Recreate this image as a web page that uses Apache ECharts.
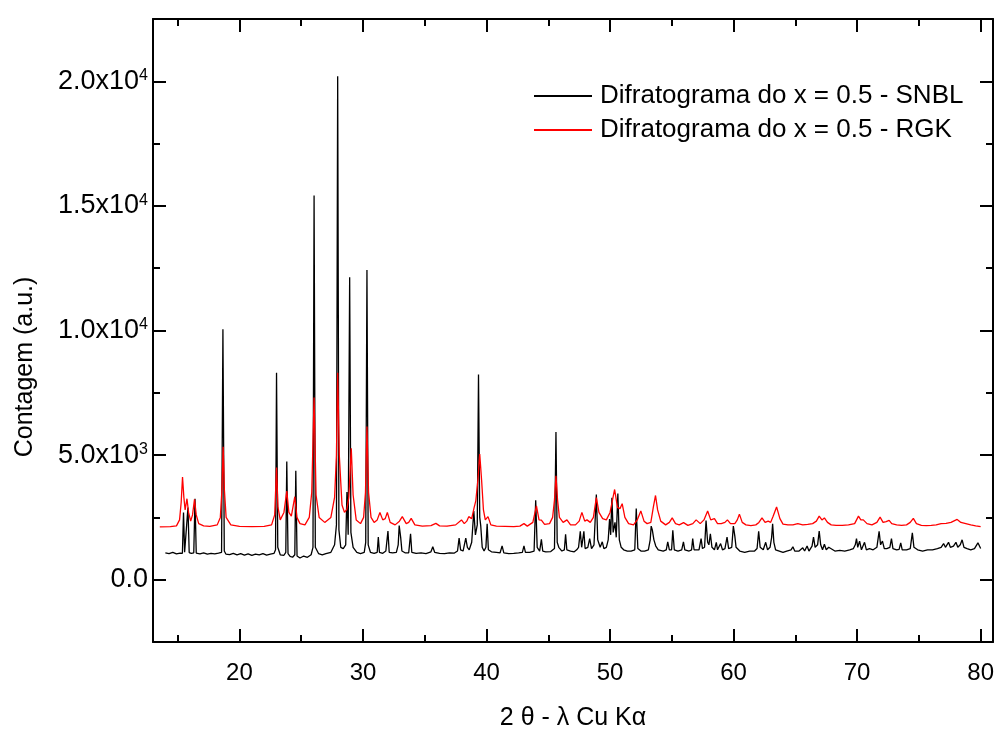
<!DOCTYPE html>
<html>
<head>
<meta charset="utf-8">
<script src="https://cdn.jsdelivr.net/npm/echarts@6/dist/echarts.min.js"></script>
<style>html,body{margin:0;padding:0;background:#fff}#c{width:997px;height:736px}</style>
</head>
<body>
<div id="c"></div>
<script>
// ---- data (2θ in degrees, counts) ----
const seriesNames = ['Difratograma do x = 0.5 - SNBL', 'Difratograma do x = 0.5 - RGK'];
const xMajorTicks = [20, 30, 40, 50, 60, 70, 80];
const xMinorTicks = [15, 25, 35, 45, 55, 65, 75];
const yMajorTicks = [0, 5000, 10000, 15000, 20000];
const yMinorTicks = [2500, 7500, 12500, 17500];
const yTickLabels = ['0.0', '5.0x10{s|3}', '1.0x10{s|4}', '1.5x10{s|4}', '2.0x10{s|4}'];

const snbl = [
[14.0,1080],[14.3,1050],[14.6,1100],[14.9,1040],[15.2,1070],[15.38,1060],[15.47,2700],[15.56,1100],[15.7,1080],[15.83,2900],[15.93,1090],[16.1,1060],[16.3,1080],[16.4,3250],[16.5,1070],[16.8,1040],[17.1,1080],[17.4,1030],[17.7,1060],[18.0,1040],[18.3,1070],[18.55,1100],[18.66,10050],[18.77,1150],[18.9,1030],[19.2,1010],[19.5,1060],[19.8,1000],[20.1,1050],[20.4,990],[20.7,1040],[21.0,980],[21.3,1030],[21.6,1000],[21.9,1050],[22.2,990],[22.5,1030],[22.8,1060],[22.92,1200],[23.0,8300],[23.1,1300],[23.3,1000],[23.6,980],[23.75,1100],[23.83,4740],[23.93,1050],[24.1,940],[24.3,900],[24.48,1000],[24.56,4370],[24.66,950],[24.9,870],[25.2,950],[25.5,900],[25.8,1000],[25.95,1300],[26.04,15420],[26.14,1300],[26.4,1050],[26.7,1000],[27.0,1050],[27.4,1100],[27.7,1400],[27.85,2200],[27.95,20200],[28.05,2000],[28.2,1300],[28.4,1250],[28.6,1400],[28.7,3520],[28.8,1800],[28.92,12140],[29.02,1900],[29.2,1300],[29.5,1100],[29.8,1050],[30.1,1100],[30.22,1500],[30.32,12430],[30.42,1400],[30.6,1100],[30.9,1060],[31.15,1100],[31.24,1710],[31.33,1100],[31.6,1060],[31.85,1150],[32.02,1950],[32.12,1100],[32.4,1080],[32.7,1100],[32.85,1400],[32.93,2170],[33.05,1700],[33.15,1150],[33.4,1080],[33.7,1080],[33.85,1840],[33.95,1100],[34.3,1060],[34.7,1080],[35.1,1050],[35.5,1120],[35.65,1320],[35.8,1100],[36.2,1060],[36.6,1050],[37.0,1080],[37.4,1070],[37.65,1150],[37.78,1670],[37.9,1200],[38.1,1150],[38.32,1670],[38.45,1300],[38.6,1200],[38.8,1500],[38.97,2760],[39.1,1800],[39.25,2200],[39.35,8230],[39.45,2500],[39.53,2170],[39.65,1300],[39.8,1150],[39.95,1300],[40.05,2240],[40.15,1200],[40.4,1120],[40.8,1100],[41.1,1080],[41.26,1360],[41.4,1080],[41.8,1050],[42.2,1060],[42.6,1080],[42.9,1100],[43.03,1360],[43.15,1100],[43.5,1100],[43.85,1150],[43.98,3190],[44.1,1300],[44.3,1150],[44.44,1620],[44.55,1150],[44.8,1120],[45.2,1130],[45.5,1250],[45.62,5930],[45.72,1500],[45.85,1300],[46.1,1150],[46.3,1200],[46.4,1820],[46.5,1200],[46.8,1150],[47.1,1120],[47.3,1200],[47.45,1300],[47.59,1940],[47.7,1300],[47.88,1940],[47.98,1250],[48.2,1300],[48.35,1650],[48.5,1250],[48.7,1400],[48.89,3420],[49.0,1600],[49.2,1300],[49.37,1520],[49.5,1250],[49.7,1300],[49.85,1600],[49.96,2430],[50.05,1800],[50.15,3290],[50.25,1900],[50.4,2300],[50.5,1700],[50.63,3460],[50.75,1600],[50.9,1300],[51.1,1200],[51.4,1150],[51.7,1150],[52.0,1200],[52.12,2860],[52.25,1250],[52.5,1150],[52.8,1150],[53.1,1200],[53.25,1600],[53.33,2150],[53.42,2000],[53.55,1600],[53.7,1350],[53.9,1200],[54.3,1150],[54.55,1200],[54.67,1520],[54.8,1200],[54.98,1200],[55.08,1980],[55.2,1200],[55.5,1150],[55.8,1200],[55.94,1520],[56.05,1200],[56.4,1150],[56.6,1200],[56.69,1650],[56.8,1200],[57.2,1200],[57.37,1650],[57.48,1250],[57.65,1300],[57.77,2370],[57.9,1500],[58.0,1400],[58.12,1840],[58.25,1300],[58.45,1200],[58.6,1500],[58.7,1200],[58.95,1450],[59.1,1200],[59.3,1250],[59.47,1710],[59.6,1250],[59.85,1300],[59.98,2150],[60.1,1750],[60.2,1300],[60.5,1150],[60.9,1100],[61.3,1150],[61.7,1150],[61.9,1250],[62.03,1940],[62.15,1300],[62.4,1200],[62.6,1500],[62.75,1200],[62.95,1300],[63.08,1700],[63.16,2240],[63.26,1500],[63.4,1200],[63.7,1150],[64.0,1100],[64.3,1150],[64.65,1200],[64.8,1320],[64.95,1150],[65.3,1150],[65.6,1280],[65.75,1150],[65.95,1350],[66.1,1150],[66.35,1350],[66.47,1710],[66.6,1300],[66.8,1400],[66.93,1950],[67.05,1400],[67.2,1200],[67.35,1420],[67.5,1200],[67.7,1300],[67.85,1250],[68.2,1150],[68.6,1180],[69.0,1150],[69.4,1200],[69.7,1250],[69.85,1400],[69.95,1650],[70.05,1300],[70.2,1550],[70.35,1200],[70.6,1500],[70.75,1200],[71.0,1250],[71.3,1200],[71.6,1300],[71.78,1940],[71.9,1400],[72.05,1550],[72.2,1250],[72.4,1250],[72.65,1300],[72.78,1650],[72.9,1250],[73.2,1200],[73.4,1220],[73.53,1480],[73.65,1200],[74.0,1200],[74.3,1250],[74.47,1880],[74.6,1300],[74.9,1200],[75.3,1150],[75.7,1200],[76.1,1200],[76.5,1250],[76.8,1300],[77.0,1450],[77.15,1300],[77.4,1500],[77.55,1300],[77.8,1350],[78.0,1500],[78.15,1300],[78.35,1400],[78.5,1600],[78.65,1300],[78.9,1250],[79.2,1200],[79.5,1250],[79.78,1480],[80.0,1250]
];

const rgk = [
[13.55,2120],[14.4,2130],[14.9,2160],[15.15,2400],[15.28,3100],[15.39,4120],[15.5,3300],[15.6,2800],[15.75,3250],[15.88,2700],[16.05,2350],[16.2,2600],[16.36,3230],[16.5,2600],[16.7,2250],[17.1,2160],[17.6,2140],[18.2,2200],[18.45,2500],[18.58,3600],[18.68,5330],[18.78,3600],[18.92,2500],[19.3,2200],[20.0,2140],[21.0,2130],[22.0,2140],[22.6,2200],[22.85,2600],[23.0,4500],[23.12,2900],[23.3,2400],[23.6,2700],[23.83,3560],[24.0,2700],[24.2,2550],[24.48,3330],[24.65,2500],[24.9,2250],[25.3,2200],[25.65,2500],[25.85,3500],[26.04,7310],[26.2,3400],[26.45,2500],[26.9,2300],[27.4,2500],[27.7,3300],[27.85,5000],[27.95,8300],[28.08,5000],[28.3,3000],[28.5,2700],[28.7,2830],[28.85,3300],[29.05,5270],[29.2,3400],[29.45,2400],[29.8,2250],[30.05,2500],[30.2,3500],[30.32,6150],[30.45,3500],[30.65,2500],[30.9,2300],[31.15,2400],[31.37,2700],[31.6,2400],[31.8,2450],[31.97,2700],[32.2,2300],[32.6,2200],[32.95,2350],[33.18,2530],[33.5,2250],[33.7,2300],[33.9,2460],[34.2,2200],[34.8,2150],[35.5,2170],[35.9,2260],[36.2,2160],[36.8,2150],[37.5,2200],[37.97,2400],[38.2,2250],[38.4,2350],[38.56,2530],[38.8,2450],[39.0,2900],[39.13,3160],[39.3,4000],[39.45,5040],[39.6,4000],[39.75,2800],[39.9,2400],[40.12,2530],[40.35,2200],[40.8,2150],[41.5,2140],[42.2,2130],[42.7,2150],[43.03,2250],[43.3,2150],[43.75,2300],[44.04,2960],[44.25,2400],[44.44,2390],[44.7,2220],[45.1,2250],[45.35,2500],[45.5,3200],[45.62,4170],[45.75,3200],[45.9,2500],[46.05,2450],[46.2,2300],[46.51,2400],[46.8,2200],[47.2,2200],[47.5,2350],[47.72,2700],[47.95,2350],[48.13,2400],[48.4,2300],[48.65,2500],[48.89,3290],[49.1,2700],[49.4,2450],[49.7,2400],[50.0,2700],[50.2,3200],[50.37,3620],[50.6,2900],[50.8,2850],[50.98,3050],[51.2,2500],[51.5,2250],[51.9,2200],[52.2,2400],[52.49,2760],[52.75,2350],[53.0,2250],[53.3,2300],[53.5,2900],[53.68,3380],[53.85,2800],[54.1,2350],[54.5,2200],[54.8,2300],[55.03,2480],[55.3,2250],[55.6,2200],[55.95,2290],[56.3,2180],[56.7,2250],[56.97,2400],[57.3,2250],[57.6,2400],[57.9,2760],[58.15,2400],[58.45,2450],[58.7,2250],[59.0,2250],[59.3,2300],[59.5,2400],[59.75,2250],[60.1,2250],[60.3,2400],[60.47,2630],[60.7,2300],[61.0,2200],[61.4,2170],[61.8,2200],[62.05,2300],[62.3,2480],[62.55,2300],[62.8,2350],[63.0,2300],[63.2,2550],[63.48,2920],[63.75,2450],[64.0,2230],[64.4,2200],[64.8,2200],[65.2,2250],[65.6,2200],[66.0,2220],[66.4,2250],[66.7,2350],[66.93,2550],[67.15,2400],[67.35,2480],[67.6,2300],[67.9,2200],[68.3,2180],[68.8,2180],[69.3,2200],[69.8,2250],[70.11,2550],[70.3,2400],[70.5,2400],[70.8,2250],[71.2,2200],[71.6,2300],[71.86,2510],[72.1,2300],[72.35,2330],[72.59,2380],[72.8,2250],[73.2,2200],[73.6,2180],[74.0,2200],[74.3,2300],[74.55,2460],[74.8,2250],[75.2,2180],[75.6,2170],[76.0,2180],[76.4,2200],[76.8,2250],[77.2,2260],[77.6,2300],[78.1,2420],[78.4,2300],[78.8,2250],[79.2,2200],[79.6,2160],[80.0,2130]
];

// ---- chart ----
const FONT = 'Liberation Sans, Arial, Helvetica, sans-serif';
const X_MIN = 13, X_MAX = 81, Y_MIN = -2500, Y_MAX = 22500;
const lineStyle = {color: '#000', width: 2};

function xAx(pos, ticks, len, showLine, labels) {
  return {
    type: 'value', position: pos, min: X_MIN, max: X_MAX,
    axisLine: {show: showLine, onZero: false, lineStyle: lineStyle},
    axisTick: {show: true, inside: true, length: len, customValues: ticks, lineStyle: {color: '#000', width: 2}},
    axisLabel: labels ? {show: true, customValues: ticks, margin: 19, color: '#000', fontSize: 24, fontFamily: FONT} : {show: false},
    splitLine: {show: false}
  };
}
function yAx(pos, ticks, len, showLine, labels) {
  return {
    type: 'value', position: pos, min: Y_MIN, max: Y_MAX,
    axisLine: {show: showLine, onZero: false, lineStyle: lineStyle},
    axisTick: {show: true, inside: true, length: len, customValues: ticks, lineStyle: {color: '#000', width: 2}},
    axisLabel: labels ? {
      show: true, customValues: ticks, margin: 5, color: '#000', fontSize: 27, fontFamily: FONT,
      formatter: function (v) { const i = yMajorTicks.indexOf(v); return i >= 0 ? yTickLabels[i] : ''; },
      rich: {s: {fontSize: 16, fontFamily: FONT, color: '#000', verticalAlign: 'top', lineHeight: 16, padding: [0, 0, 12, 0]}}
    } : {show: false},
    splitLine: {show: false}
  };
}

const xb = xAx('bottom', xMajorTicks, 13, true, true);
xb.name = '2 \u03b8 - \u03bb Cu K\u03b1';
xb.nameLocation = 'middle';
xb.nameGap = 64;
xb.nameTextStyle = {color: '#000', fontSize: 25, fontFamily: FONT};

const chart = echarts.init(document.getElementById('c'), null, {renderer: 'canvas'});
chart.setOption({
  animation: false,
  backgroundColor: '#fff',
  grid: {left: 153, right: 3, top: 19, bottom: 84, containLabel: false},
  xAxis: [
    xb,
    xAx('bottom', xMinorTicks, 7, false, false),
    xAx('top', xMajorTicks, 13, true, false),
    xAx('top', xMinorTicks, 7, false, false)
  ],
  yAxis: [
    yAx('left', yMajorTicks, 13, true, true),
    yAx('left', yMinorTicks, 7, false, false),
    yAx('right', yMajorTicks, 13, true, false),
    yAx('right', yMinorTicks, 7, false, false)
  ],
  legend: {
    orient: 'vertical', left: 529, top: 78, icon: 'rect', itemWidth: 58, itemHeight: 2, itemGap: 8,
    textStyle: {color: '#000', fontSize: 26, fontFamily: FONT, padding: [0, 0, 0, 3]},
    data: seriesNames
  },
  graphic: [{
    type: 'text', x: 25, y: 367, rotation: Math.PI / 2,
    style: {text: 'Contagem (a.u.)', fill: '#000', fontSize: 25, fontFamily: FONT, align: 'center', verticalAlign: 'middle'}
  }],
  series: [
    {name: seriesNames[0], type: 'line', data: snbl, xAxisIndex: 0, yAxisIndex: 0, symbol: 'none', showSymbol: false,
     lineStyle: {color: '#000', width: 1.3}, itemStyle: {color: '#000'}, z: 2},
    {name: seriesNames[1], type: 'line', data: rgk, xAxisIndex: 0, yAxisIndex: 0, symbol: 'none', showSymbol: false,
     lineStyle: {color: '#ff0000', width: 1.3}, itemStyle: {color: '#ff0000'}, z: 3}
  ]
});
</script>
</body>
</html>
